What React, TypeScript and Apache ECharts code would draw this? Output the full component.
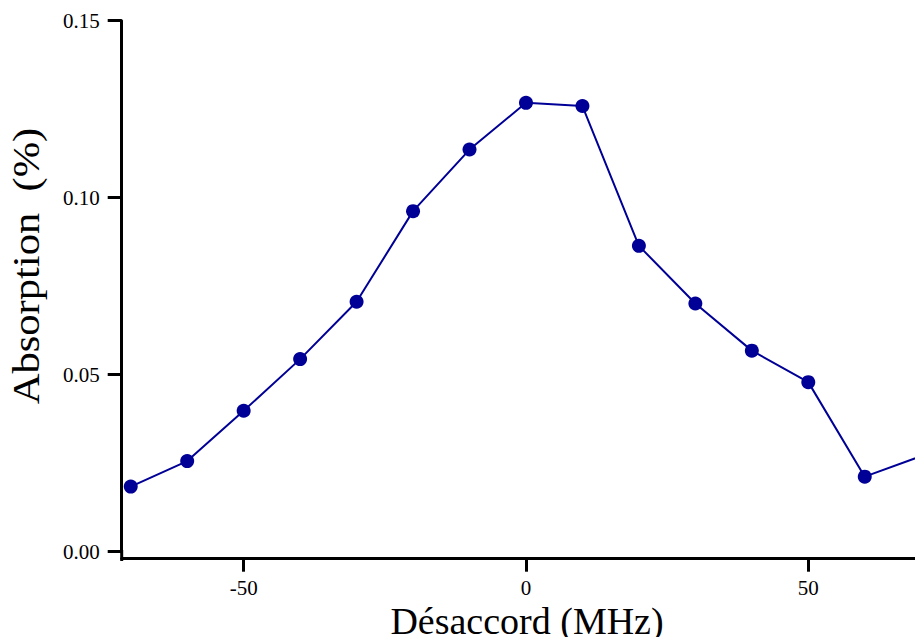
import React, { useEffect, useRef } from "react";
import * as echarts from "echarts";

const detuning = [-70, -60, -50, -40, -30, -20, -10, 0, 10, 20, 30, 40, 50, 60, 70];
const absorption = [0.0184, 0.0256, 0.0398, 0.0544, 0.0706, 0.0962, 0.1136, 0.1268, 0.1259, 0.0864, 0.0701, 0.0568, 0.0479, 0.0212, 0.0270];
const xTicks = [-50, 0, 50];
const yTicks = [0, 0.05, 0.1, 0.15];
const xTitle = "Désaccord (MHz)";
const yTitle = "Absorption  (%)";

const FONT = "'Liberation Serif', 'DejaVu Serif', serif";
const LINE = "#000096";

export default function App() {
  const ref = useRef<HTMLDivElement>(null);
  useEffect(() => {
    if (!ref.current) return;
    const chart = echarts.init(ref.current, null, { renderer: "svg" });
    chart.setOption({
      animation: false,
      backgroundColor: "#ffffff",
      grid: { left: 121.7, right: 0, top: 20.7, bottom: 85.3, containLabel: false },
      xAxis: {
        type: "value",
        min: -71.6,
        max: 68.9,
        offset: 7,
        splitLine: { show: false },
        axisLine: { onZero: false, lineStyle: { color: "#000", width: 3 } },
        axisTick: { customValues: xTicks, length: 13, lineStyle: { color: "#000", width: 3 } },
        axisLabel: {
          customValues: xTicks,
          color: "#000",
          fontFamily: FONT,
          fontSize: 21,
          margin: 19,
        },
      },
      yAxis: {
        type: "value",
        min: 0,
        max: 0.15,
        interval: 0.05,
        splitLine: { show: false },
        axisLine: { show: true, onZero: false, lineStyle: { color: "#000", width: 3 } },
        axisTick: { show: true, length: 14, lineStyle: { color: "#000", width: 3 } },
        axisLabel: {
          customValues: yTicks,
          color: "#000",
          fontFamily: FONT,
          fontSize: 21,
          margin: 22,
          formatter: (v: number) => v.toFixed(2),
        },
      },
      graphic: [
        {
          type: "line",
          shape: { x1: 121.7, y1: 550, x2: 121.7, y2: 561 },
          style: { stroke: "#000", lineWidth: 3 },
        },
        {
          type: "text",
          x: 527,
          y: 620.5,
          style: {
            text: xTitle,
            font: `38px ${FONT}`,
            fill: "#000",
            align: "center",
            verticalAlign: "middle",
          },
        },
        {
          type: "text",
          x: 26,
          y: 266,
          rotation: Math.PI / 2,
          scaleX: 1.12,
          style: {
            text: yTitle,
            font: `38px ${FONT}`,
            fill: "#000",
            align: "center",
            verticalAlign: "middle",
          },
        },
      ],
      series: [
        {
          type: "line",
          data: detuning.map((d, i) => [d, absorption[i]]),
          symbol: "circle",
          symbolSize: 14,
          clip: true,
          lineStyle: { color: LINE, width: 2 },
          itemStyle: { color: LINE },
        },
      ],
    });
    return () => chart.dispose();
  }, []);
  return (
    <div
      ref={ref}
      style={{ position: "fixed", left: 0, top: 0, width: 915, height: 637, background: "#fff" }}
    />
  );
}
